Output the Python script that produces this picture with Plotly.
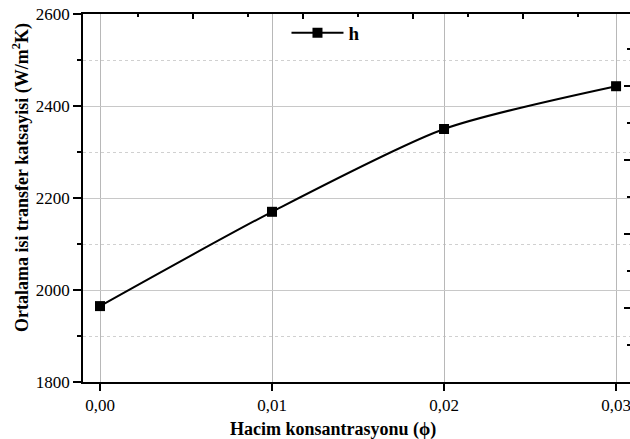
import plotly.graph_objects as go

phi = [0.00, 0.01, 0.02, 0.03]
h_vals = [1965, 2170, 2350, 2443]
series_name = "h"
x_ticks = [0.00, 0.01, 0.02, 0.03]
x_ticktext = ["0,00", "0,01", "0,02", "0,03"]
y_ticks = [1800, 2000, 2200, 2400, 2600]

FONT = "Liberation Serif"

fig = go.Figure()
fig.add_trace(go.Scatter(
    x=phi, y=h_vals, name=series_name, mode="lines+markers",
    line=dict(color="black", width=2, shape="spline", smoothing=0.7),
    marker=dict(symbol="square", size=10, color="black"),
))
# empty trace to activate the secondary (top/right) axes
fig.add_trace(go.Scatter(x=[None], y=[None], xaxis="x2", yaxis="y2",
                         showlegend=False, hoverinfo="skip"))

fig.update_layout(
    width=630, height=439,
    margin=dict(l=83, r=0, t=14, b=57),
    paper_bgcolor="white", plot_bgcolor="white",
    font=dict(family=FONT, color="black", size=17),
    showlegend=True,
    legend=dict(x=0.372, y=1.0, xanchor="left", yanchor="top", itemwidth=52,
                bgcolor="rgba(0,0,0,0)",
                font=dict(family=FONT, size=19, color="black", weight="bold")),
    xaxis=dict(
        range=[-0.000988, 0.03081], tickvals=x_ticks, ticktext=x_ticktext,
        ticklabeloverflow="allow",
        showline=True, linecolor="black", linewidth=1.5,
        ticks="outside", ticklen=7, tickwidth=1.5, tickcolor="black",
        showgrid=True, gridcolor="#b8b8b8", gridwidth=1,
        zeroline=False, tickfont=dict(size=17, family=FONT),
    ),
    yaxis=dict(
        range=[1800, 2600], tickvals=y_ticks, tickformat="d",
        showline=True, linecolor="black", linewidth=1.5,
        ticks="outside", ticklen=8, tickwidth=1.5, tickcolor="black",
        showgrid=True, gridcolor="#c8c8c8", gridwidth=1,
        zeroline=False, tickfont=dict(size=17, family=FONT),
        minor=dict(dtick=100, ticks="outside", ticklen=4, tickcolor="black",
                   showgrid=True, gridcolor="#d0d0d0", griddash="dot", gridwidth=1),
    ),
    xaxis2=dict(
        overlaying="x", side="top", range=[-1, 3.9727], dtick=1, tick0=0,
        showticklabels=False, showgrid=False, zeroline=False,
        showline=True, linecolor="black", linewidth=1.5,
        ticks="inside", ticklen=5, tickwidth=1.5, tickcolor="black",
        minor=dict(dtick=0.5, ticks="inside", ticklen=3, tickcolor="black"),
    ),
    yaxis2=dict(
        overlaying="y", side="right", range=[-1, 3.973], dtick=1, tick0=0,
        showticklabels=False, showgrid=False, zeroline=False,
        showline=True, linecolor="black", linewidth=1.5,
        ticks="inside", ticklen=6, tickwidth=1.5, tickcolor="black",
        minor=dict(dtick=0.5, ticks="inside", ticklen=3, tickcolor="black"),
    ),
    annotations=[
        dict(text="<b>Hacim konsantrasyonu (ϕ)</b>", xref="paper", yref="paper",
             x=(333 - 83) / 547, y=(382 - 430) / 368, xanchor="center", yanchor="middle",
             showarrow=False, font=dict(family=FONT, size=18, color="black")),
        dict(text="<b>Ortalama isi transfer katsayisi (W/m<sup>2</sup>K)</b>",
             xref="paper", yref="paper", textangle=-90,
             x=(21 - 83) / 547, y=(382 - 178) / 368, xanchor="center", yanchor="middle",
             showarrow=False, font=dict(family=FONT, size=18, color="black")),
    ],
)

fig.write_html("out.html")
